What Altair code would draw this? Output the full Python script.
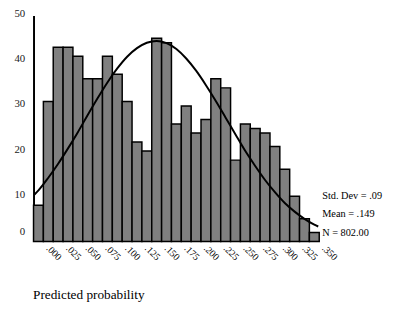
import altair as alt
import pandas as pd

# Histogram counts (bins of width .0125 centred on 0, .0125, ..., .35)
counts = [8, 31, 43, 43, 41, 36, 36, 41, 37, 31, 22, 20, 45, 44, 26,
          30, 24, 27, 36, 34, 18, 26, 25, 24, 21, 16, 10, 5, 2]
bin_width = 0.0125
bin_centers = [round(i * bin_width, 4) for i in range(len(counts))]

# Normal curve (x, frequency)
curve_x = [-0.005, 0.0, 0.0125, 0.025, 0.0375, 0.05, 0.0625, 0.075, 0.0875,
           0.1, 0.1125, 0.125, 0.1375, 0.15, 0.1625, 0.175, 0.1875, 0.2,
           0.2125, 0.225, 0.2375, 0.25, 0.2625, 0.275, 0.2875, 0.3, 0.3125,
           0.325, 0.3375, 0.35, 0.355]
curve_y = [10.4, 11.3, 14.1, 17.2, 20.6, 24.2, 28.0, 31.7, 35.2, 38.3, 40.9,
           42.8, 44.0, 44.4, 43.9, 42.6, 40.5, 37.8, 34.6, 31.1, 27.4, 23.7,
           20.0, 16.7, 13.6, 10.9, 8.5, 6.6, 5.0, 3.7, 3.3]

tick_values = [0.0, 0.025, 0.05, 0.075, 0.1, 0.125, 0.15, 0.175, 0.2, 0.225,
               0.25, 0.275, 0.3, 0.325, 0.35]
y_ticks = [0, 10, 20, 30, 40, 50]
stats_lines = ["Std. Dev = .09", "Mean = .149", "N = 802.00"]
x_title = "Predicted probability"

FONT = "Liberation Serif"

bars_df = pd.DataFrame({
    "lo": [c - bin_width / 2 for c in bin_centers],
    "hi": [c + bin_width / 2 for c in bin_centers],
    "count": counts,
    "base": [0] * len(counts),
})
curve_df = pd.DataFrame({"x": curve_x, "y": curve_y})
stats_df = pd.DataFrame({"k": [0]})

xscale = alt.Scale(domain=[-bin_width / 2, 0.35 + bin_width / 2], nice=False,
                   zero=False, padding=0)
yscale = alt.Scale(domain=[0, 50], nice=False, padding=0)

xaxis = alt.Axis(
    values=tick_values,
    labelExpr="replace(format(datum.value, '.3f'), '0.', '.')",
    labelAngle=45, labelAlign="left", labelBaseline="middle",
    labelPadding=5, labelOffset=9, labelFont=FONT, labelFontSize=10,
    labelColor="#000000",
    labelOverlap=False, labelBound=False, labelFlush=False,
    ticks=False, domain=False, grid=False,
    title=x_title, titleFont=FONT, titleFontSize=13.5, titleFontWeight="normal",
    titleColor="#000000", titleAnchor="start", titleAlign="left",
    titleBaseline="middle", titleX=-1, titleY=54,
)
yaxis = alt.Axis(
    values=y_ticks, ticks=False, grid=False, domain=True,
    domainColor="#000000", domainWidth=2,
    labelFont=FONT, labelFontSize=11, labelColor="#222222", labelPadding=9,
    labelFlush=False, labelBound=False, labelOverlap=False,
    labelOffset={"condition": {"test": "datum.value == 0", "value": -10}, "value": -2},
    title=None,
)

bars = alt.Chart(bars_df).mark_bar(
    fill="#808080", stroke="#000000", strokeWidth=1.5, orient="vertical"
).encode(
    x=alt.X("lo:Q", scale=xscale, axis=xaxis),
    x2="hi:Q",
    y=alt.Y("count:Q", scale=yscale, axis=yaxis),
    y2="base:Q",
)

curve = alt.Chart(curve_df).mark_line(
    color="#000000", strokeWidth=2, interpolate="monotone"
).encode(
    x=alt.X("x:Q", scale=xscale, axis=xaxis),
    y=alt.Y("y:Q", scale=yscale, axis=yaxis),
)

stats = alt.Chart(stats_df).mark_text(
    align="left", baseline="middle", font=FONT, fontSize=10.5, color="#000000",
    lineHeight=18.5,
).encode(
    x=alt.value(294),
    y=alt.value(184),
    text=alt.value(stats_lines),
)

chart = alt.layer(bars, curve, stats).properties(
    width=291, height=230,
    background="#ffffff",
    autosize=alt.AutoSizeParams(type="none"),
    padding={"left": 26, "top": 5, "right": 68, "bottom": 62},
).configure_view(stroke=None)

chart.save("out.html", embed_options={"renderer": "svg", "actions": False})
